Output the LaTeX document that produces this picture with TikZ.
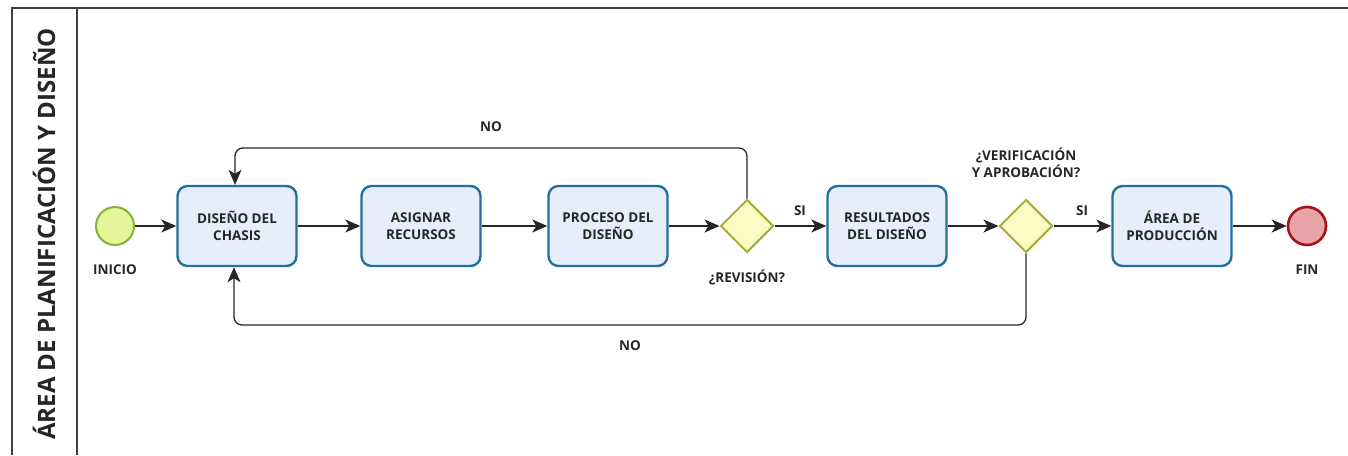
\documentclass[tikz,border=0pt]{standalone}
\usepackage{fontspec}
\setmainfont{Open Sans}
\usetikzlibrary{arrows.meta,shapes.geometric}
\definecolor{taskfill}{HTML}{E6EEFB}
\definecolor{taskline}{HTML}{22709E}
\definecolor{gwfill}{HTML}{FBFBC4}
\definecolor{gwline}{HTML}{A9AD3A}
\definecolor{startfill}{HTML}{E4F59A}
\definecolor{startline}{HTML}{86B23A}
\definecolor{endfill}{HTML}{EBA3AA}
\definecolor{endline}{HTML}{A31218}
\tikzset{
  task/.style={draw=taskline, line width=2.4pt, fill=taskfill, rounded corners=10pt,
    minimum width=119pt, minimum height=80pt, align=center, inner sep=0pt,
    font=\fontsize{13.5}{16.5}\selectfont\bfseries, text=black!85},
  gw/.style={draw=gwline, line width=2pt, fill=gwfill, diamond, minimum width=53pt,
    minimum height=53pt, inner sep=0pt},
  startev/.style={circle, draw=startline, line width=2pt, fill=startfill, minimum size=38pt, inner sep=0pt},
  endev/.style={circle, draw=endline, line width=2.6pt, fill=endfill, minimum size=38pt, inner sep=0pt},
  lbl/.style={font=\fontsize{13.5}{16.5}\selectfont\bfseries, text=black!85, align=center, inner sep=0pt},
  flow/.style={draw=black!85, line width=1.3pt, -{Stealth[length=15pt,width=13pt,inset=4pt]}, rounded corners=8pt},
  frame/.style={draw=black!75, line width=1.5pt}
}
\begin{document}
\begin{tikzpicture}[x=1pt,y=-1pt]
\useasboundingbox (0,0) rectangle (1348,455);
% frame
\draw[frame] (12,455) -- (12,8) -- (1348,8);
\draw[frame] (77,8) -- (77,455);
\node[rotate=90, font=\fontsize{24}{28}\selectfont\bfseries, text=black!85, inner sep=0pt] (lane) at (44,234) {ÁREA DE PLANIFICACIÓN Y DISEÑO};
% nodes
\node[startev] (inicio) at (115,226) {};
\node[lbl] (linicio) at (115,270) {INICIO};
\node[task] (t1) at (237,226) {DISEÑO DEL\\CHASIS};
\node[task] (t2) at (421,226) {ASIGNAR\\RECURSOS};
\node[task] (t3) at (608,226) {PROCESO DEL\\DISEÑO};
\node[gw] (g1) at (747,226) {};
\node[lbl] (lg1) at (747,277) {¿REVISIÓN?};
\node[task] (t4) at (887,226) {RESULTADOS\\DEL DISEÑO};
\node[gw] (g2) at (1026,226) {};
\node[lbl] (lg2) at (1026,163) {¿VERIFICACIÓN\\Y APROBACIÓN?};
\node[task] (t5) at (1172,226) {ÁREA DE\\PRODUCCIÓN};
\node[endev] (fin) at (1307,226) {};
\node[lbl] (lfin) at (1307,270) {FIN};
% labels
\node[lbl] (si1) at (800,211) {SI};
\node[lbl] (si2) at (1082,211) {SI};
\node[lbl] (no1) at (491,127) {NO};
\node[lbl] (no2) at (630,346) {NO};
% coordinates for loops
\coordinate (n1a) at (747,148);
\coordinate (n1b) at (235,148);
\coordinate (n2a) at (1026,325);
\coordinate (n2b) at (234,325);
% flows
\draw[flow] (inicio) -- (t1);
\draw[flow] (t1) -- (t2);
\draw[flow] (t2) -- (t3);
\draw[flow] (t3) -- (g1);
\draw[flow] (g1) -- (t4);
\draw[flow] (t4) -- (g2);
\draw[flow] (g2) -- (t5);
\draw[flow] (t5) -- (fin);
\draw[flow] (g1.north) -- (n1a) -- (n1b) -- (t1.north -| n1b);
\draw[flow] (g2.south) -- (n2a) -- (n2b) -- (t1.south -| n2b);
\end{tikzpicture}
\end{document}
